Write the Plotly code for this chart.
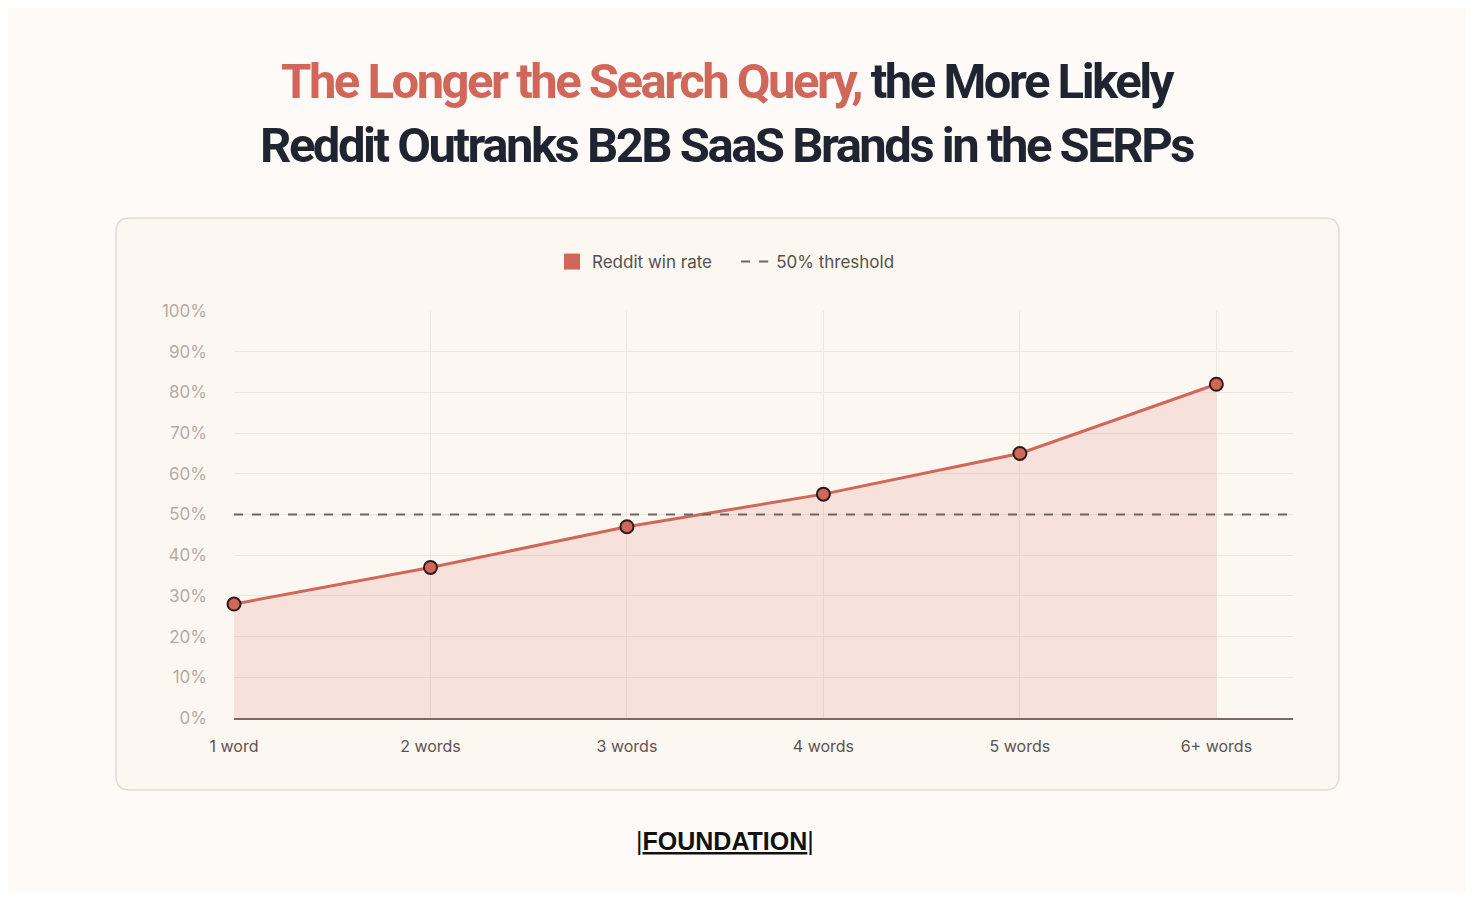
import plotly.graph_objects as go

# data
query_lengths = ["1 word", "2 words", "3 words", "4 words", "5 words", "6+ words"]
reddit_win_rate = [28, 37, 47, 55, 65, 82]
threshold = 50
y_ticks = [0, 10, 20, 30, 40, 50, 60, 70, 80, 90, 100]
y_tick_labels = [f"{t}%" for t in y_ticks]

line_color = "#D0675A"
title_font = "Roboto, DejaVu Sans, sans-serif"
body_font = "Inter, Open Sans, sans-serif"

# the page puts the figure 8px in from the corner, so work in page pixels
# and shift back by that offset
PAD = 8
W, H = 1474 - 2 * PAD, 900 - 2 * PAD
plot_left, plot_right, plot_top, plot_bottom = 234, 1293, 311, 718
pw = plot_right - plot_left
ph = plot_bottom - plot_top


def px_to_paper(x, y):
    return (x - plot_left) / pw, (plot_bottom - y) / ph


def rounded_rect(x0, y0, x1, y1, r):
    # card outline, page pixels converted to paper coords
    ax, ay = px_to_paper(x0, y0)
    bx, by = px_to_paper(x1, y1)
    rx, ry = r / pw, r / ph
    return (
        f"M {ax + rx},{ay} L {bx - rx},{ay} Q {bx},{ay} {bx},{ay - ry} "
        f"L {bx},{by + ry} Q {bx},{by} {bx - rx},{by} "
        f"L {ax + rx},{by} Q {ax},{by} {ax},{by + ry} "
        f"L {ax},{ay - ry} Q {ax},{ay} {ax + rx},{ay} Z"
    )


fig = go.Figure()

fig.add_trace(
    go.Scatter(
        x=query_lengths,
        y=reddit_win_rate,
        mode="lines+markers",
        fill="tozeroy",
        fillcolor="rgba(214,108,94,0.15)",
        line=dict(color=line_color, width=3),
        marker=dict(size=13, color=line_color, line=dict(color="#2B1D1B", width=2)),
        cliponaxis=False,
        showlegend=False,
        hoverinfo="x+y",
    )
)

# legend-only entry to get the square swatch
fig.add_trace(
    go.Scatter(
        x=[None],
        y=[None],
        mode="markers",
        name="Reddit win rate    ",
        marker=dict(symbol="square", size=19, color=line_color),
    )
)

fig.add_shape(
    type="path",
    xref="paper",
    yref="paper",
    path=rounded_rect(116, 218, 1339, 790, 14),
    fillcolor="#FDF7F1",
    line=dict(color="#E3DBD4", width=1.5),
    layer="below",
)

fig.add_shape(
    type="line",
    xref="paper",
    yref="y",
    x0=0,
    x1=1,
    y0=threshold,
    y1=threshold,
    line=dict(color="#6E6562", width=2, dash="dash"),
    showlegend=True,
    name="50% threshold",
)

fig.add_annotation(
    text="|<b><u>FOUNDATION</u></b>|",
    xref="paper",
    yref="paper",
    x=px_to_paper(725, 0)[0],
    y=px_to_paper(0, 841)[1],
    xanchor="center",
    yanchor="middle",
    showarrow=False,
    font=dict(family="Liberation Sans, Arial, sans-serif", size=25, color="#111111"),
)

# two-line headline, tightened bold to mimic the condensed face
tight = "letter-spacing:-2.5px"
fig.add_annotation(
    text=(
        f"<span style='color:{line_color};{tight}'>The Longer the Search Query,</span>"
        f"<span style='{tight}'> the More Likely</span><br>"
        f"<span style='{tight}'>Reddit Outranks B2B SaaS Brands in the SERPs</span>"
    ),
    xref="paper",
    yref="paper",
    x=px_to_paper(727, 0)[0],
    y=px_to_paper(0, 113)[1],
    xanchor="center",
    yanchor="middle",
    showarrow=False,
    font=dict(family=title_font, size=49, color="#1F2430", weight="bold"),
)

fig.update_layout(
    width=W,
    height=H,
    margin=dict(l=plot_left - PAD, r=W + PAD - plot_right, t=plot_top - PAD, b=H + PAD - plot_bottom),
    paper_bgcolor="#FDFAF7",
    plot_bgcolor="rgba(0,0,0,0)",
    legend=dict(
        orientation="h",
        x=px_to_paper(726, 0)[0],
        xanchor="center",
        y=px_to_paper(0, 262)[1],
        yanchor="middle",
        font=dict(family=body_font, size=17, color="#555050"),
        bgcolor="rgba(0,0,0,0)",
    ),
    font=dict(family=body_font),
)

fig.update_xaxes(
    range=[0, 5.39],
    showgrid=True,
    gridcolor="#EFE6E1",
    showline=True,
    linecolor="#7A6A66",
    linewidth=2,
    ticks="",
    tickfont=dict(family=body_font, size=16, color="#5A5452"),
    ticklabelstandoff=13,
    zeroline=False,
)

fig.update_yaxes(
    range=[0, 100],
    tickvals=y_ticks,
    ticktext=y_tick_labels,
    showgrid=True,
    gridcolor="#EFE6E1",
    zeroline=False,
    showline=False,
    ticks="",
    tickfont=dict(family=body_font, size=17, color="#B5ABA6"),
    ticklabelstandoff=26,
)

fig.write_html("out.html")
